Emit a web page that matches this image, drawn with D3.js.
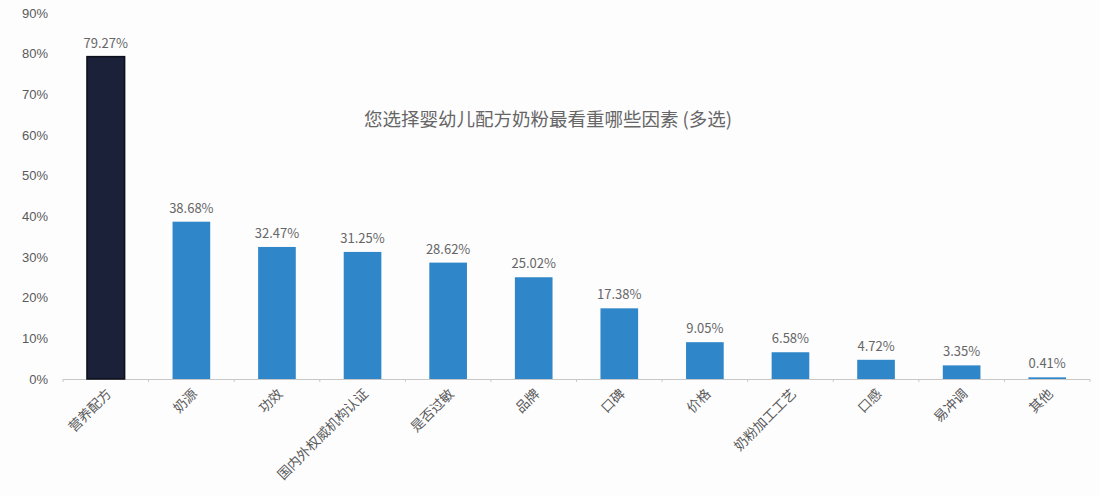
<!DOCTYPE html>
<html lang="zh">
  <head>
    <meta charset="UTF-8" />
    <title>婴幼儿配方奶粉因素</title>
    <script src="https://d3js.org/d3.v7.min.js"></script>
    <style>
      body {
        margin: 0;
        background: #fdfdfe;
        font-family: "Noto Sans CJK SC", "Noto Sans", sans-serif;
      }
    </style>
  </head>
  <body>
    <svg id="chart" width="1100" height="496"></svg>

    <script>
      const categories = [
        "营养配方", "奶源", "功效", "国内外权威机构认证", "是否过敏", "品牌",
        "口碑", "价格", "奶粉加工工艺", "口感", "易冲调", "其他"
      ];
      const values = [79.27, 38.68, 32.47, 31.25, 28.62, 25.02, 17.38, 9.05, 6.58, 4.72, 3.35, 0.41];
      const yTicks = [0, 10, 20, 30, 40, 50, 60, 70, 80, 90];
      const title = "您选择婴幼儿配方奶粉最看重哪些因素 (多选)";

      const svg = d3.select("#chart");
      const m = { left: 63, right: 1090, top: 13, bottom: 379 };

      const x = d3.scaleBand().domain(categories).range([m.left, m.right])
        .paddingInner(0.56).paddingOuter(0.28);
      const y = d3.scaleLinear().domain([0, 90]).range([m.bottom, m.top]);

      // y axis labels only
      svg.append("g")
        .attr("transform", `translate(${m.left - 12},0)`)
        .call(d3.axisLeft(y).tickValues(yTicks).tickFormat((d) => d + "%").tickSize(0))
        .call((g) => g.select(".domain").remove())
        .selectAll("text")
        .attr("font-size", 13)
        .attr("fill", "#5a5a5a");

      // x axis line with ticks between bands
      const stepW = x.step();
      svg.append("line")
        .attr("x1", m.left).attr("x2", m.right)
        .attr("y1", m.bottom + 0.5).attr("y2", m.bottom + 0.5)
        .attr("stroke", "#c8c8c8");
      svg.selectAll(".sep")
        .data(d3.range(categories.length + 1))
        .enter()
        .append("line")
        .attr("x1", (i) => m.left + i * stepW)
        .attr("x2", (i) => m.left + i * stepW)
        .attr("y1", m.bottom)
        .attr("y2", m.bottom + 3)
        .attr("stroke", "#c8c8c8");

      svg.selectAll(".bar")
        .data(values)
        .enter()
        .append("rect")
        .attr("x", (d, i) => x(categories[i]))
        .attr("y", (d) => y(d))
        .attr("width", x.bandwidth())
        .attr("height", (d) => m.bottom - y(d))
        .attr("fill", (d, i) => (i === 0 ? "#1b2139" : "#2f86c8"))
        .attr("stroke", (d, i) => (i === 0 ? "#0d0f1a" : "none"))
        .attr("stroke-width", 1.5);

      svg.selectAll(".val")
        .data(values)
        .enter()
        .append("text")
        .attr("x", (d, i) => x(categories[i]) + x.bandwidth() / 2)
        .attr("y", (d) => y(d) - 9)
        .attr("text-anchor", "middle")
        .attr("font-size", 13)
        .attr("fill", "#666")
        .text((d) => d.toFixed(2) + "%");

      svg.selectAll(".xlab")
        .data(categories)
        .enter()
        .append("text")
        .attr("transform", (d) =>
          `translate(${x(d) + x.bandwidth() / 2 + 4},${m.bottom + 13}) rotate(-45)`)
        .attr("text-anchor", "end")
        .attr("dominant-baseline", "middle")
        .attr("font-size", 13.5)
        .attr("fill", "#5a5a5a")
        .text((d) => d);

      svg.append("text")
        .attr("x", 548)
        .attr("y", 126)
        .attr("text-anchor", "middle")
        .attr("font-size", 18.5)
        .attr("fill", "#666")
        .text(title);
    </script>
  </body>
</html>
